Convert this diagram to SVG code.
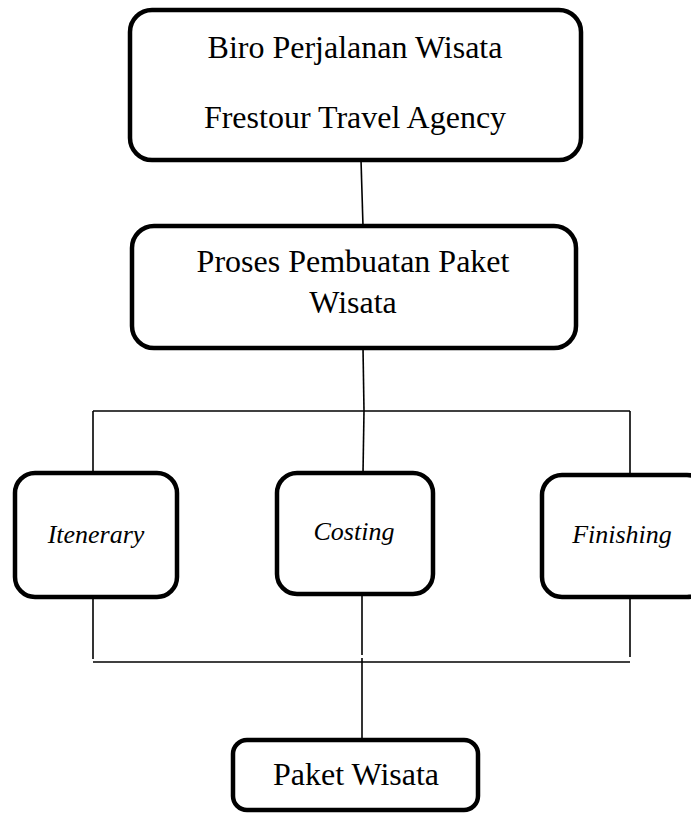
<svg xmlns="http://www.w3.org/2000/svg" width="691" height="815" viewBox="0 0 691 815">
<style>
.box{fill:#fff;stroke:#000;stroke-width:4.5}
.ln{stroke:#000;stroke-width:1.6;fill:none}
.t{font-family:"Liberation Serif","Times New Roman",serif;font-size:32px;fill:#000;text-anchor:middle}
.ti{font-family:"Liberation Serif","Times New Roman",serif;font-size:26px;font-style:italic;fill:#000;text-anchor:middle}
</style>
<rect width="691" height="815" fill="#fff"/>
<g id="connectors">
<line class="ln" x1="361" y1="160" x2="363" y2="226"/>
<line class="ln" x1="363" y1="348" x2="364" y2="411"/>
<line class="ln" x1="93" y1="411" x2="630" y2="411"/>
<line class="ln" x1="93" y1="411" x2="93" y2="473"/>
<line class="ln" x1="364" y1="411" x2="363" y2="473"/>
<line class="ln" x1="630" y1="411" x2="630" y2="475"/>
<line class="ln" x1="93" y1="597" x2="93" y2="659"/>
<line class="ln" x1="362" y1="594" x2="362" y2="655"/>
<line class="ln" x1="630" y1="597" x2="630" y2="657"/>
<line class="ln" x1="93" y1="662" x2="630" y2="662"/>
<line class="ln" x1="362" y1="658" x2="362" y2="740"/>
</g>
<g id="node-biro">
<rect class="box" x="130" y="10" width="451" height="150" rx="22"/>
<text class="t" x="355" y="58">Biro Perjalanan Wisata</text>
<text class="t" x="355" y="128">Frestour Travel Agency</text>
</g>
<g id="node-proses">
<rect class="box" x="132" y="226" width="444" height="122" rx="22"/>
<text class="t" x="353" y="272">Proses Pembuatan Paket</text>
<text class="t" x="353" y="313">Wisata</text>
</g>
<g id="node-itenerary">
<rect class="box" x="15" y="473" width="162" height="124" rx="20"/>
<text class="ti" x="96" y="543">Itenerary</text>
</g>
<g id="node-costing">
<rect class="box" x="277" y="473" width="156" height="121" rx="20"/>
<text class="ti" x="354" y="540">Costing</text>
</g>
<g id="node-finishing">
<rect class="box" x="542" y="475" width="165" height="122" rx="20"/>
<text class="ti" x="622" y="543">Finishing</text>
</g>
<g id="node-paket">
<rect class="box" x="233" y="740" width="245" height="70" rx="14"/>
<text class="t" x="356" y="785">Paket Wisata</text>
</g>
</svg>
